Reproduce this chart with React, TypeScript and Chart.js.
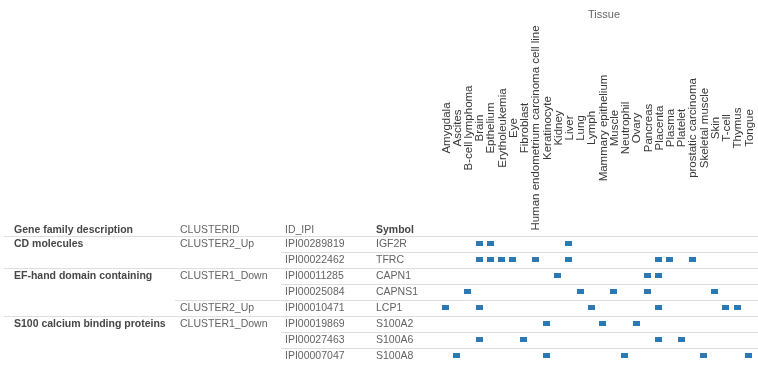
import React, { useEffect, useRef } from "react";
import { Chart, registerables } from "chart.js";

Chart.register(...registerables);

// Tissue columns
const tissues = [
  "Amygdala", "Ascites", "B-cell lymphoma", "Brain", "Epthelium", "Erytholeukemia", "Eye",
  "Fibroblast", "Human endometrium carcinoma cell line", "Keratinocyte", "Kidney", "Liver",
  "Lung", "Lymph", "Mammary epithelium", "Muscle", "Neutrophil", "Ovary", "Pancreas",
  "Placenta", "Plasma", "Platelet", "prostatic carcinoma", "Skeletal muscle", "Skin",
  "T-cell", "Thymus", "Tongue",
];

// Table rows (blank = same group as the row above)
const families = [
  "CD molecules", "", "EF-hand domain containing", "", "", "S100 calcium binding proteins", "", "",
];
const clusterIds = [
  "CLUSTER2_Up", "", "CLUSTER1_Down", "", "CLUSTER2_Up", "CLUSTER1_Down", "", "",
];
const ipiIds = [
  "IPI00289819", "IPI00022462", "IPI00011285", "IPI00025084",
  "IPI00010471", "IPI00019869", "IPI00027463", "IPI00007047",
];
const symbols = ["IGF2R", "TFRC", "CAPN1", "CAPNS1", "LCP1", "S100A2", "S100A6", "S100A8"];

// Tissues in which each protein is found
const presence = [
  ["Brain", "Epthelium", "Liver"],
  ["Brain", "Epthelium", "Erytholeukemia", "Eye", "Human endometrium carcinoma cell line", "Liver", "Placenta", "Plasma", "prostatic carcinoma"],
  ["Kidney", "Pancreas", "Placenta"],
  ["B-cell lymphoma", "Lung", "Muscle", "Pancreas", "Skin"],
  ["Amygdala", "Brain", "Lymph", "Placenta", "T-cell", "Thymus"],
  ["Keratinocyte", "Mammary epithelium", "Ovary"],
  ["Brain", "Fibroblast", "Placenta", "Platelet"],
  ["Ascites", "Keratinocyte", "Neutrophil", "Skeletal muscle", "Tongue"],
];

const headers = ["Gene family description", "CLUSTERID", "ID_IPI", "Symbol"];
const columnX = [14, 180, 285, 376];
const lineStartX = [4, 175, 281];

const FONT = '"Liberation Sans", Arial, Helvetica, sans-serif';
const MARK = "#2a78b4";

function makeMarker(): HTMLCanvasElement {
  const c = document.createElement("canvas");
  c.width = 7;
  c.height = 5;
  const g = c.getContext("2d")!;
  g.fillStyle = MARK;
  g.fillRect(0, 0, 7, 5);
  return c;
}

const tablePlugin = {
  id: "tableText",
  beforeDatasetsDraw(chart: any) {
    const { ctx, scales, chartArea, width } = chart;
    const y = scales.y;
    const half = (y.getPixelForValue(1) - y.getPixelForValue(0)) / 2;
    ctx.save();
    ctx.strokeStyle = "#dedede";
    ctx.lineWidth = 1;
    const drawRule = (x0: number, yy: number) => {
      ctx.beginPath();
      ctx.moveTo(x0, Math.round(yy) + 0.5);
      ctx.lineTo(width, Math.round(yy) + 0.5);
      ctx.stroke();
    };
    // header rule, then one rule between rows starting at the first column that changes
    drawRule(lineStartX[0], chartArea.top);
    for (let i = 0; i < symbols.length - 1; i++) {
      const yy = y.getPixelForValue(i) + half;
      let start = lineStartX[2];
      if (families[i + 1]) start = lineStartX[0];
      else if (clusterIds[i + 1]) start = lineStartX[1];
      drawRule(start, yy);
    }
    ctx.restore();
  },
  afterDraw(chart: any) {
    const { ctx, scales, chartArea } = chart;
    const x = scales.x;
    const y = scales.y;
    ctx.save();
    ctx.textBaseline = "middle";
    ctx.textAlign = "left";

    // column headers
    headers.forEach((h, i) => {
      const bold = i === 0 || i === 3;
      ctx.font = (bold ? "bold " : "") + "10.5px " + FONT;
      ctx.fillStyle = bold ? "#474747" : "#666";
      ctx.fillText(h, columnX[i], chartArea.top - 5);
    });

    // table body
    symbols.forEach((s, i) => {
      const yy = y.getPixelForValue(i) + 0.5;
      if (families[i]) {
        ctx.font = "bold 10.5px " + FONT;
        ctx.fillStyle = "#474747";
        ctx.fillText(families[i], columnX[0], yy);
      }
      ctx.font = "10.5px " + FONT;
      ctx.fillStyle = "#636363";
      if (clusterIds[i]) ctx.fillText(clusterIds[i], columnX[1], yy);
      ctx.fillText(ipiIds[i], columnX[2], yy);
      ctx.fillText(s, columnX[3], yy);
    });

    // tissue labels, rotated and centred on one line
    ctx.font = "11.5px " + FONT;
    ctx.fillStyle = "#383838";
    ctx.textAlign = "center";
    tissues.forEach((t, i) => {
      const px = x.getPixelForValue(i);
      ctx.save();
      ctx.translate(px + 1, 128);
      ctx.rotate(-Math.PI / 2);
      ctx.fillText(t, 0, 0);
      ctx.restore();
    });

    // axis title
    ctx.font = "11px " + FONT;
    ctx.fillStyle = "#666";
    ctx.fillText("Tissue", 604, 15);
    ctx.restore();
  },
};

export default function App() {
  const ref = useRef<HTMLCanvasElement>(null);

  useEffect(() => {
    const points: { x: string; y: string }[] = [];
    presence.forEach((list, r) => {
      list.forEach((t) => points.push({ x: t, y: symbols[r] }));
    });

    const chart = new Chart(ref.current!, {
      type: "scatter",
      data: {
        datasets: [
          {
            data: points as any,
            pointStyle: makeMarker(),
            pointRadius: 3,
            pointHoverRadius: 3,
            backgroundColor: MARK,
          },
        ],
      },
      options: {
        responsive: false,
        animation: false,
        layout: { padding: { left: 439.8, right: 1.3, top: 235.5, bottom: 4.5 } },
        plugins: { legend: { display: false }, tooltip: { enabled: false } },
        scales: {
          x: { type: "category", labels: tissues, offset: true, display: false },
          y: { type: "category", labels: symbols, offset: true, display: false },
        },
      },
      plugins: [tablePlugin],
    });
    return () => chart.destroy();
  }, []);

  return (
    <div style={{ position: "fixed", left: 0, top: 0, width: 758, height: 368, background: "#fff" }}>
      <canvas ref={ref} width={758} height={368} style={{ display: "block" }} />
    </div>
  );
}
